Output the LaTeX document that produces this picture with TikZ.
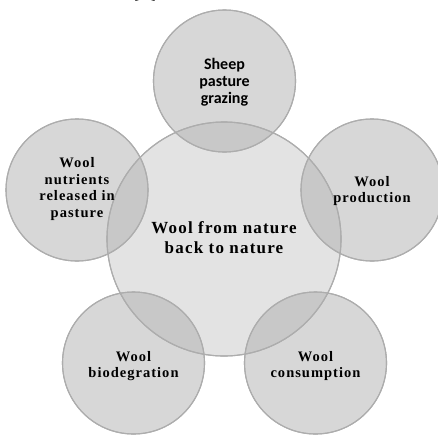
\documentclass[tikz,border=0pt]{standalone}
\usepackage{fontspec}
\setmainfont{Liberation Serif}
\newfontfamily\calib{Carlito}
\newfontfamily\spacedserif[LetterSpace=7]{Liberation Serif}
\begin{document}
\begin{tikzpicture}[x=1pt,y=-1pt,
  ring/.style={circle,draw=black!32,line width=1.1pt},
  sat/.style={ring,minimum size=142pt,inner sep=0pt,fill=black!33,fill opacity=0.48,draw opacity=1},
  outline/.style={draw=black!32,line width=1.1pt},
  sattext/.style={font=\spacedserif\bfseries\fontsize{14.5}{16.5}\selectfont,align=center,text=black},
  hubtext/.style={font=\spacedserif\bfseries\fontsize{17}{20}\selectfont,align=center,text=black}]
\useasboundingbox (0,0) rectangle (438,434);
\clip (0,0) rectangle (438,434);
\node[font=\fontsize{14}{16}\selectfont,anchor=base] (ref) at (145,-0.5) {[\hspace{12pt}]};
\node[ring,minimum size=234pt,inner sep=0pt,fill=black!11] (hub) at (224,239) {};
\node[sat] (s1) at (224.5,81) {};
\node[sat] (s2) at (77,190) {};
\node[sat] (s3) at (372,190) {};
\node[sat] (s4) at (133.5,363) {};
\node[sat] (s5) at (315.5,363) {};
\draw[outline] (hub) circle[radius=117pt];
\foreach \n in {s1,s2,s3,s4,s5}{\draw[outline] (\n) circle[radius=71pt];}
\node[hubtext] (t0) at (224,238) {Wool from nature\\back to nature};
\node[font=\calib\bfseries\fontsize{16}{17}\selectfont,align=center,text=black] (t1) at (224.5,82) {Sheep\\pasture\\grazing};
\node[sattext] (t2) at (77,189) {Wool\\nutrients\\released in\\pasture};
\node[sattext] (t3) at (372,191) {Wool\\production};
\node[sattext] (t4) at (133.5,366) {Wool\\biodegration};
\node[sattext] (t5) at (315.5,366) {Wool\\consumption};
\end{tikzpicture}
\end{document}
